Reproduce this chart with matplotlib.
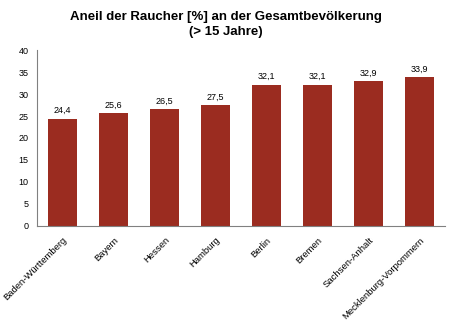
import matplotlib
matplotlib.use("Agg")
import matplotlib.pyplot as plt

categories = ["Baden-Württemberg", "Bayern", "Hessen", "Hamburg", "Berlin",
              "Bremen", "Sachsen-Anhalt", "Mecklenburg-Vorpommern"]
values = [24.4, 25.6, 26.5, 27.5, 32.1, 32.1, 32.9, 33.9]
value_labels = ["24,4", "25,6", "26,5", "27,5", "32,1", "32,1", "32,9", "33,9"]
yticks = [0, 5, 10, 15, 20, 25, 30, 35, 40]

plt.rcParams['font.family'] = ['Liberation Sans', 'DejaVu Sans']

fig = plt.figure(figsize=(4.52, 3.27), dpi=100)
ax = fig.add_axes([0.082, 0.309, 0.903, 0.538])

x = list(range(len(categories)))
ax.bar(x, values, width=0.57, color="#9B2C20")
for xi, v, lab in zip(x, values, value_labels):
    ax.text(xi, v + 0.8, lab, ha="center", va="bottom", fontsize=6.5)

ax.set_xlim(-0.5, len(categories) - 0.5)
ax.set_ylim(0, 40)
ax.set_yticks(yticks)
ax.set_yticklabels([str(t) for t in yticks], fontsize=6.5)
ax.set_xticks(x)
ax.set_xticklabels(categories, rotation=45, ha="right", rotation_mode="anchor", fontsize=6.8)
ax.tick_params(axis="both", length=0, pad=6)
ax.tick_params(axis="x", pad=7)
for s in ["top", "right"]:
    ax.spines[s].set_visible(False)
for s in ["left", "bottom"]:
    ax.spines[s].set_color("#808080")
    ax.spines[s].set_linewidth(0.8)

fig.text(0.5, 0.925, "Aneil der Raucher [%] an der Gesamtbevölkerung\n(> 15 Jahre)",
         ha="center", va="center", fontsize=9.5, fontweight="bold", linespacing=1.35)

fig.savefig("out.png", dpi=100)
